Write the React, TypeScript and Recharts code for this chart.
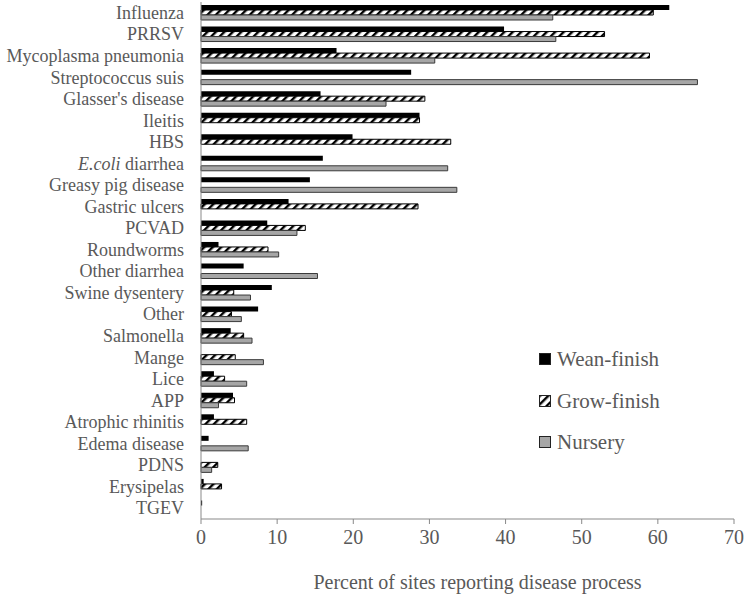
import { BarChart, Bar, XAxis, YAxis } from "recharts";

const diseases = [
  "Influenza", "PRRSV", "Mycoplasma pneumonia", "Streptococcus suis", "Glasser's disease",
  "Ileitis", "HBS", "E.coli diarrhea", "Greasy pig disease", "Gastric ulcers", "PCVAD",
  "Roundworms", "Other diarrhea", "Swine dysentery", "Other", "Salmonella", "Mange",
  "Lice", "APP", "Atrophic rhinitis", "Edema disease", "PDNS", "Erysipelas", "TGEV",
];

// null = not reported for that production type
const weanFinish = [
  61.5, 39.8, 17.8, 27.6, 15.7, 28.7, 19.9, 16.0, 14.3, 11.5, 8.7, 2.3,
  5.6, 9.3, 7.5, 3.9, null, 1.7, 4.2, 1.7, 1.0, null, 0.35, 0.15,
];
const growFinish = [
  59.4, 53.0, 58.9, null, 29.4, 28.7, 32.8, null, null, 28.5, 13.7, 8.8,
  null, 4.3, 4.0, 5.6, 4.5, 3.1, 4.4, 6.0, null, 2.2, 2.7, null,
];
const nursery = [
  46.2, 46.6, 30.7, 65.2, 24.3, null, null, 32.4, 33.6, null, 12.6, 10.2,
  15.3, 6.5, 5.3, 6.7, 8.2, 6.0, 2.3, null, 6.2, 1.4, null, null,
];

const xTicks = [0, 10, 20, 30, 40, 50, 60, 70];

const data = diseases.map((name, i) => ({
  name,
  wean: weanFinish[i],
  grow: growFinish[i],
  nursery: nursery[i],
}));

const FONT = "'Liberation Serif', 'Times New Roman', serif";
const TEXT = "#595959";
const AXIS = "#898989";
const GRAY = "#a6a6a6";

function HatchDef({ id }: { id: string }) {
  return (
    <pattern id={id} patternUnits="userSpaceOnUse" width="6" height="6" patternTransform="rotate(45)">
      <rect x="0" y="0" width="6" height="6" fill="#fff" />
      <rect x="0" y="0" width="2.4" height="6" fill="#000" />
    </pattern>
  );
}

function CatTick(props: any) {
  const { x, y, payload } = props;
  const v: string = payload.value;
  return (
    <text x={x} y={y} dy="0.34em" textAnchor="end" fill={TEXT} fontSize={18} fontFamily={FONT}>
      {v === "E.coli diarrhea" ? (
        <>
          <tspan fontStyle="italic">E.coli</tspan> diarrhea
        </>
      ) : (
        v
      )}
    </text>
  );
}

function XTick(props: any) {
  const { x, y, payload } = props;
  return (
    <text x={x} y={y} dy="0.71em" textAnchor="middle" fill={TEXT} fontSize={20} fontFamily={FONT}>
      {payload.value}
    </text>
  );
}

function XTitle(props: any) {
  const vb = props.viewBox || {};
  const cx = vb.x + vb.width / 2;
  return (
    <text x={cx + 10} y={582} dy="0.34em" textAnchor="middle" fill={TEXT} fontSize={20} fontFamily={FONT}>
      Percent of sites reporting disease process
    </text>
  );
}

const legendItems = [
  { label: "Wean-finish", fill: "#000" },
  { label: "Grow-finish", fill: "url(#hatchLegend)" },
  { label: "Nursery", fill: GRAY },
];

function LegendBox() {
  return (
    <div style={{ position: "absolute", left: 539, top: 339, fontFamily: FONT, color: TEXT, fontSize: 21 }}>
      {legendItems.map((it) => (
        <div key={it.label} style={{ display: "flex", alignItems: "center", height: 41.5 }}>
          <svg width={13} height={13} style={{ marginRight: 5 }}>
            <defs>
              <HatchDef id="hatchLegend" />
            </defs>
            <rect x={0.5} y={0.5} width={11} height={11} fill={it.fill} stroke="#222" strokeWidth={1} />
          </svg>
          <span>{it.label}</span>
        </div>
      ))}
    </div>
  );
}

export default function App() {
  return (
    <div style={{ position: "absolute", left: 0, top: 0, width: 746, height: 595, background: "#fff" }}>
      <BarChart
        width={746}
        height={595}
        data={data}
        layout="vertical"
        margin={{ top: 2, right: 12, left: 0, bottom: 0 }}
        barGap={0}
        barCategoryGap={6}
        style={{ fontFamily: FONT }}
      >
        <defs>
          <HatchDef id="hatch" />
        </defs>
        <XAxis
          type="number"
          domain={[0, 70]}
          ticks={xTicks}
          height={76}
          axisLine={{ stroke: AXIS }}
          tickLine={{ stroke: AXIS }}
          tickSize={5}
          tickMargin={6}
          tick={<XTick />}
          label={<XTitle />}
        />
        <YAxis
          type="category"
          dataKey="name"
          width={201}
          axisLine={{ stroke: AXIS }}
          tickLine={false}
          tickSize={0}
          tickMargin={17}
          interval={0}
          tick={<CatTick />}
        />
        <Bar dataKey="wean" name="Wean-finish" fill="#000" barSize={5} isAnimationActive={false} />
        <Bar dataKey="grow" name="Grow-finish" fill="url(#hatch)" stroke="#000" strokeWidth={1} barSize={5} isAnimationActive={false} />
        <Bar dataKey="nursery" name="Nursery" fill={GRAY} stroke="#3a3a3a" strokeWidth={1} barSize={5} isAnimationActive={false} />
      </BarChart>
      <LegendBox />
    </div>
  );
}
